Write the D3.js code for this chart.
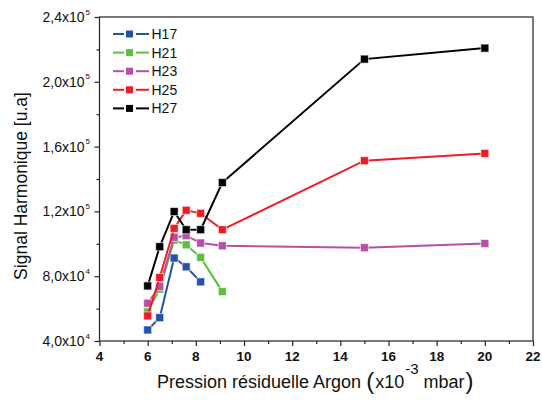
<!DOCTYPE html>
<html><head><meta charset="utf-8">
<script src="https://cdn.jsdelivr.net/npm/d3@7"></script>
<style>body{margin:0;background:#fff}svg{display:block;font-family:"Liberation Sans",Arial,sans-serif}</style>
</head><body><svg id="c" width="542" height="400"></svg>
<script>
const pressure = [6, 6.5, 7.1, 7.6, 8.2, 9.1, 15, 20];
const seriesNames = ["H17", "H21", "H23", "H25", "H27"];
const seriesColors = ["#2452aa", "#5cbf40", "#b84ea6", "#ee1d25", "#000000"];
const H17 = [46800, 54400, 91200, 85800, 76500];
const H21 = [58000, 72000, 102300, 99400, 91600, 70500];
const H23 = [63300, 73600, 104000, 105000, 100500, 98800, 97600, 100200];
const H25 = [55500, 79200, 109500, 120700, 118800, 108700, 151300, 155800];
const H27 = [74000, 98200, 119900, 108700, 108700, 137800, 214000, 220800];
const xTicks = [4, 6, 8, 10, 12, 14, 16, 18, 20, 22];
const yTicks = [40000, 80000, 120000, 160000, 200000, 240000];
const yTickMant = ["4,0", "8,0", "1,2", "1,6", "2,0", "2,4"];
const yTickExp = ["4", "4", "5", "5", "5", "5"];

const seriesValues = [H17, H21, H23, H25, H27];
const svg = d3.select("#c");
const L = 99.5, R = 533, T = 17, B = 341;
const x = d3.scaleLinear().domain([4, 22]).range([L, R]);
const y = d3.scaleLinear().domain([40000, 240000]).range([B, T]);

// frame
svg.append("rect").attr("x", L).attr("y", T).attr("width", R - L).attr("height", B - T)
  .attr("fill", "none").attr("stroke", "#222").attr("stroke-width", 1.2);

// x axis
const xAxis = d3.axisBottom(x).tickValues(d3.range(4, 23, 1)).tickSize(4).tickFormat("");
const gx = svg.append("g").attr("transform", `translate(0,${B})`).call(xAxis);
gx.select(".domain").remove();
gx.selectAll(".tick line").attr("stroke", "#222").attr("stroke-width", 1.2)
  .attr("y2", d => d % 2 === 0 ? 5 : 3);
svg.append("g").selectAll("text").data(xTicks).join("text")
  .attr("x", d => x(d)).attr("y", 361).attr("text-anchor", "middle")
  .attr("font-size", 13.5).attr("font-weight", "bold").attr("fill", "#111").text(d => d);

// y axis
const yAxis = d3.axisLeft(y).tickValues(d3.range(40000, 240001, 20000)).tickSize(4).tickFormat("");
const gy = svg.append("g").attr("transform", `translate(${L},0)`).call(yAxis);
gy.select(".domain").remove();
gy.selectAll(".tick line").attr("stroke", "#222").attr("stroke-width", 1.2)
  .attr("x2", d => d % 40000 === 0 ? -5 : -3);
svg.append("g").selectAll("text").data(yTicks).join("text")
  .attr("x", 84.5).attr("y", d => y(d) + 5).attr("text-anchor", "end")
  .attr("font-size", 14).attr("fill", "#111")
  .text((d, i) => yTickMant[i] + "x10");
svg.append("g").selectAll("text").data(yTicks).join("text")
  .attr("x", 85.5).attr("y", d => y(d) - 2.5).attr("font-size", 8).attr("fill", "#111")
  .text((d, i) => yTickExp[i]);

// axis titles
svg.append("text").attr("transform", "translate(27,186) rotate(-90)").attr("text-anchor", "middle")
  .attr("font-size", 17.5).attr("fill", "#111").text("Signal Harmonique [u.a]");
const xt = svg.append("text").attr("x", 157).attr("y", 388).attr("font-size", 18).attr("fill", "#111");
xt.append("tspan").text("Pression résiduelle Argon ");
xt.append("tspan").attr("font-size", 24).attr("dy", 1).text("(");
xt.append("tspan").attr("dy", -1).attr("dx", 1).text("x10");
xt.append("tspan").attr("font-size", 15).attr("dy", -14).attr("dx", 1).text("-3");
xt.append("tspan").attr("dy", 14).text(" mbar");
xt.append("tspan").attr("font-size", 24).attr("dy", 1).attr("dx", 1).text(")");

// series
const line = d3.line().x((d) => x(d[0])).y(d => y(d[1]));
seriesValues.forEach((vals, i) => {
  const pts = vals.map((v, j) => [pressure[j], v]);
  const g = svg.append("g");
  g.append("path").attr("d", line(pts)).attr("fill", "none")
    .attr("stroke", seriesColors[i]).attr("stroke-width", 2);
  g.selectAll("rect").data(pts).join("rect")
    .attr("x", d => x(d[0]) - 4).attr("y", d => y(d[1]) - 4).attr("width", 8).attr("height", 8)
    .attr("fill", seriesColors[i]).attr("stroke", "#fff").attr("stroke-opacity", 0.6).attr("stroke-width", 1);
});

// legend
const lg = svg.append("g");
seriesNames.forEach((n, i) => {
  const yy = 34 + i * 18.6;
  lg.append("line").attr("x1", 113).attr("x2", 124).attr("y1", yy).attr("y2", yy)
    .attr("stroke", seriesColors[i]).attr("stroke-width", 2);
  lg.append("line").attr("x1", 136).attr("x2", 149).attr("y1", yy).attr("y2", yy)
    .attr("stroke", seriesColors[i]).attr("stroke-width", 2);
  lg.append("rect").attr("x", 126).attr("y", yy - 3.5).attr("width", 7).attr("height", 7)
    .attr("fill", seriesColors[i]);
  lg.append("text").attr("x", 151.5).attr("y", yy + 5).attr("font-size", 14).attr("fill", "#111").text(n);
});
</script></body></html>
